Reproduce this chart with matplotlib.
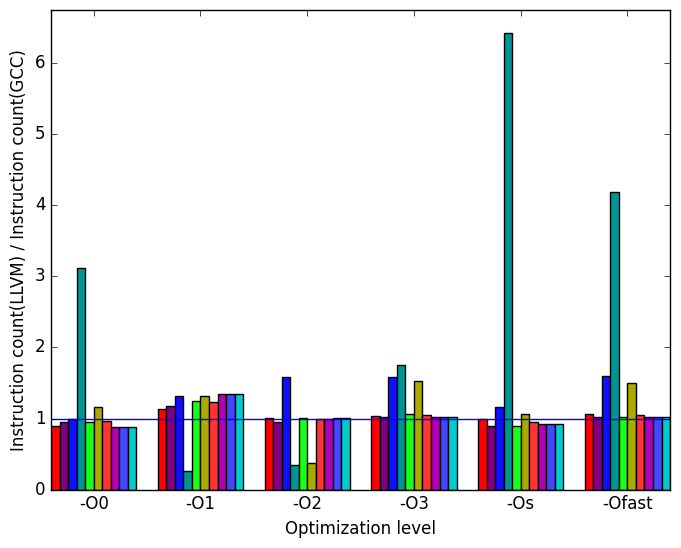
import matplotlib
matplotlib.use('Agg')
import matplotlib.pyplot as plt
import numpy as np

plt.style.use('classic')

# 优化级别与每组测试程序的比值
levels = ['-O0', '-O1', '-O2', '-O3', '-Os', '-Ofast']
ratios_O0 = [0.90, 0.95, 0.99, 3.11, 0.95, 1.17, 0.97, 0.88, 0.88, 0.88]
ratios_O1 = [1.14, 1.18, 1.32, 0.27, 1.25, 1.32, 1.23, 1.34, 1.34, 1.34]
ratios_O2 = [1.01, 0.95, 1.59, 0.35, 1.01, 0.38, 1.00, 1.00, 1.01, 1.01]
ratios_O3 = [1.04, 1.02, 1.59, 1.76, 1.07, 1.53, 1.05, 1.03, 1.03, 1.03]
ratios_Os = [1.00, 0.90, 1.17, 6.42, 0.90, 1.07, 0.95, 0.92, 0.92, 0.92]
ratios_Ofast = [1.06, 1.02, 1.60, 4.19, 1.02, 1.50, 1.05, 1.02, 1.02, 1.02]

data = np.array([ratios_O0, ratios_O1, ratios_O2, ratios_O3, ratios_Os, ratios_Ofast])

colors = ['#ff0000', '#800080', '#1010ff', '#009494', '#1aff1a',
          '#aaaa00', '#ff3535', '#b400b4', '#4646ff', '#00cccc']

fig, ax = plt.subplots(figsize=(6.81, 5.48), dpi=100)
fig.patch.set_facecolor('white')

width = 0.08
x = np.arange(len(levels))
for j in range(data.shape[1]):
    ax.bar(x + j * width, data[:, j], width, color=colors[j],
           edgecolor='black', linewidth=1, align='edge')

ax.axhline(1, color='b', linewidth=1)

ax.set_xlim(0, len(levels) - 1 + data.shape[1] * width)
ax.set_ylim(0, data.max() * 1.05)
ax.set_xticks(x + data.shape[1] * width / 2)
ax.set_xticklabels(levels)
ax.set_xlabel('Optimization level')
ax.set_ylabel('Instruction count(LLVM) / Instruction count(GCC)')

plt.subplots_adjust(left=0.075, right=0.984, top=0.982, bottom=0.106)
plt.savefig('out.png', dpi=100, facecolor='white')
